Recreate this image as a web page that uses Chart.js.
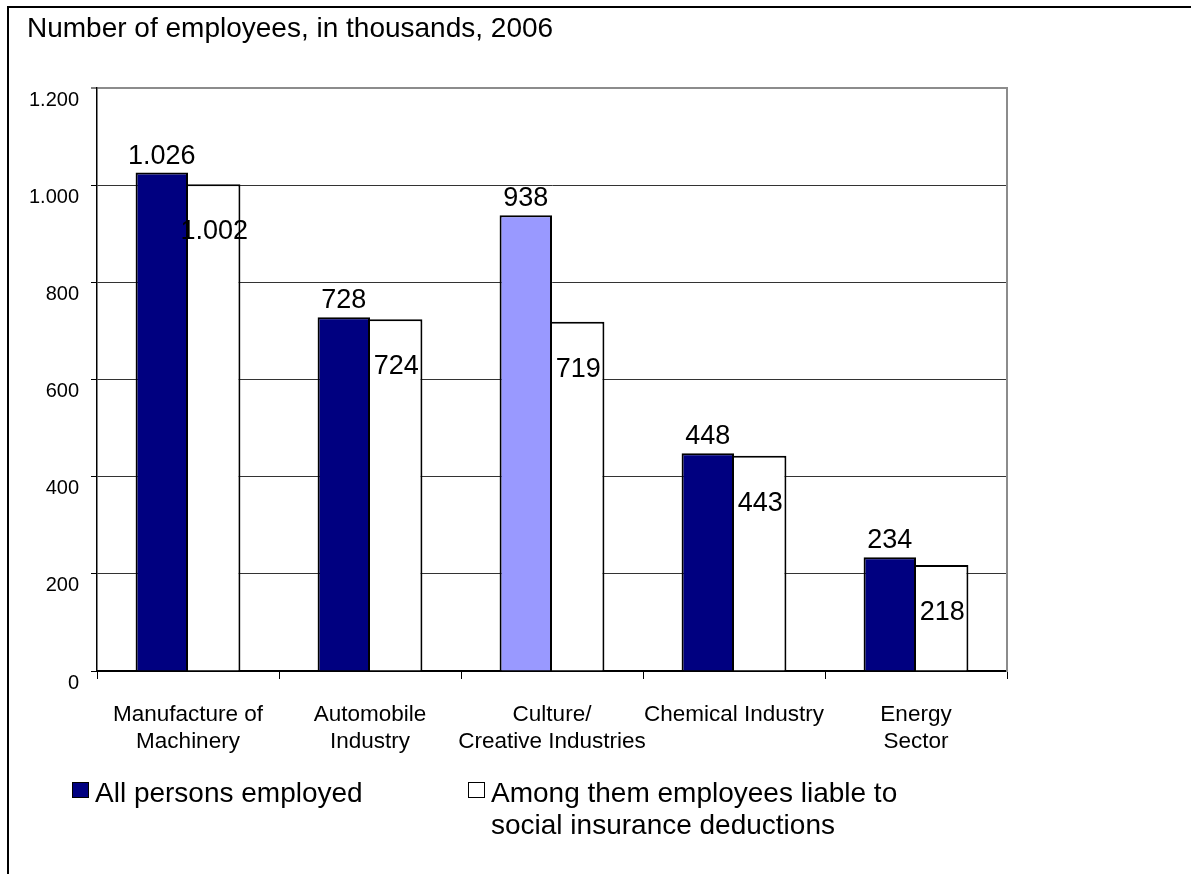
<!DOCTYPE html>
<html>
<head>
<meta charset="utf-8">
<title>Number of employees, in thousands, 2006</title>
<script src="https://cdn.jsdelivr.net/npm/chart.js@4.4.1/dist/chart.umd.min.js"></script>
<style>
  html, body { margin: 0; padding: 0; background: #fff; }
  #wrap { position: relative; width: 1191px; height: 874px; overflow: hidden;
          font-family: 'Liberation Sans', Arial, sans-serif; color: #000; }
  #chart { position: absolute; left: 0; top: 0; }
  /* outer frame: only the top and left edges are visible */
  #frame { position: absolute; left: 7px; top: 6px; right: 0; bottom: 0;
           border-top: 2px solid #000; border-left: 2px solid #000; pointer-events: none; }
  #legend { position: absolute; left: 0; top: 777px; width: 1191px; height: 90px;
            font-size: 28px; line-height: 32px; }
  #legend .item { position: absolute; top: 0; }
  #legend .item:nth-child(1) { left: 95px; }
  #legend .item:nth-child(2) { left: 491px; width: 420px; }
  #legend .swatch { position: absolute; left: -23px; top: 5px; width: 17px; height: 16px;
                    box-sizing: border-box; border: 1.5px solid #000; }
</style>
</head>
<body>
<div id="wrap">
  <canvas id="chart" width="1191" height="874"></canvas>
  <div id="frame"></div>
  <div id="legend"></div>
</div>
<script>
// data
const categories = [
  ["Manufacture of", "Machinery"],
  ["Automobile", "Industry"],
  ["Culture/", "Creative Industries"],
  ["Chemical Industry"],
  ["Energy", "Sector"]
];
const allEmployed = [1026, 728, 938, 448, 234];
const insuredEmployees = [1002, 724, 719, 443, 218];
const seriesNames = [
  "All persons employed",
  "Among them employees liable to social insurance deductions"
];
const yTicks = [0, 200, 400, 600, 800, 1000, 1200];

// colours (the culture sector bar is highlighted)
const allFill = ['#000080', '#000080', '#9999ff', '#000080', '#000080'];
const insuredFill = '#ffffff';

const FONT = "'Liberation Sans', Arial, sans-serif";
Chart.defaults.font.family = FONT;
Chart.defaults.color = '#000';

// 1026 -> "1.026"
function fmt(n) {
  return String(Math.round(n)).replace(/\B(?=(\d{3})+(?!\d))/g, '.');
}

// value labels: above the first series, inside the top of the second
const valueLabels = {
  id: 'valueLabels',
  afterDatasetsDraw(chart, args, opts) {
    const ctx = chart.ctx;
    ctx.save();
    ctx.font = opts.font;
    ctx.fillStyle = '#000';
    ctx.textAlign = 'center';
    ctx.textBaseline = 'alphabetic';
    chart.data.datasets.forEach((ds, i) => {
      chart.getDatasetMeta(i).data.forEach((bar, j) => {
        const y = i === 0 ? bar.y - opts.above : bar.y + opts.inside;
        ctx.fillText(fmt(ds.data[j]), bar.x, y);
      });
    });
    ctx.restore();
  }
};

const topTick = yTicks[yTicks.length - 1];

const chart = new Chart(document.getElementById('chart'), {
  type: 'bar',
  data: {
    labels: categories,
    datasets: [{
      label: seriesNames[0],
      data: allEmployed,
      backgroundColor: allFill,
      borderColor: '#000',
      borderWidth: { top: 2, left: 2, right: 2, bottom: 0 }
    }, {
      label: seriesNames[1],
      data: insuredEmployees,
      backgroundColor: insuredFill,
      borderColor: '#000',
      borderWidth: { top: 2, left: 0, right: 2, bottom: 0 }
    }]
  },
  options: {
    responsive: false,
    animation: false,
    devicePixelRatio: 1,
    categoryPercentage: 0.576,
    barPercentage: 1,
    layout: { padding: { left: 27, right: 184, top: 0, bottom: 103 } },
    plugins: {
      legend: { display: false },
      tooltip: { enabled: false },
      title: {
        display: true,
        text: 'Number of employees, in thousands, 2006',
        align: 'start',
        color: '#000',
        font: { size: 28, weight: 'normal', lineHeight: 1.2 },
        padding: { top: 12, bottom: 42.4 }
      },
      valueLabels: { font: '27px ' + FONT, above: 9, inside: 55 }
    },
    scales: {
      x: {
        offset: true,
        grid: { offset: true, drawOnChartArea: false, tickLength: 8, tickColor: '#000', tickWidth: 1 },
        border: { color: '#000', width: 2 },
        ticks: { color: '#000', font: { size: 22.5, lineHeight: 1.2 }, padding: 22,
                 maxRotation: 0, autoSkip: false },
        afterFit(s) { s.height = 100; }
      },
      y: {
        min: yTicks[0],
        max: topTick,
        ticks: {
          stepSize: yTicks[1] - yTicks[0],
          callback: v => fmt(v),
          color: '#000',
          font: { size: 20 },
          padding: 12,
          labelOffset: 12
        },
        grid: {
          color: c => c.tick && c.tick.value === topTick ? '#8c8c8c'
                    : (c.tick && c.tick.value === 0 ? '#000' : '#333'),
          lineWidth: c => c.tick && c.tick.value === topTick ? 2 : 1,
          tickLength: 6,
          tickColor: '#000',
          tickWidth: 1
        },
        border: { color: '#000', width: 1.5 },
        afterFit(s) { s.width = 70; }
      },
      // right edge of the plot frame
      yRight: {
        type: 'linear',
        position: 'right',
        display: true,
        ticks: { display: false },
        grid: { display: false, drawTicks: false },
        border: { color: '#8c8c8c', width: 2 },
        afterFit(s) { s.width = 0; }
      }
    }
  },
  plugins: [valueLabels]
});

// html legend so the long series name can wrap onto two lines
const legendEl = document.getElementById('legend');
Chart.defaults.plugins.legend.labels.generateLabels(chart).forEach(item => {
  const div = document.createElement('div');
  div.className = 'item';
  const sw = document.createElement('span');
  sw.className = 'swatch';
  sw.style.background = Array.isArray(item.fillStyle) ? item.fillStyle[0] : item.fillStyle;
  const txt = document.createElement('span');
  txt.textContent = item.text;
  div.appendChild(sw);
  div.appendChild(txt);
  legendEl.appendChild(div);
});
</script>
</body>
</html>
